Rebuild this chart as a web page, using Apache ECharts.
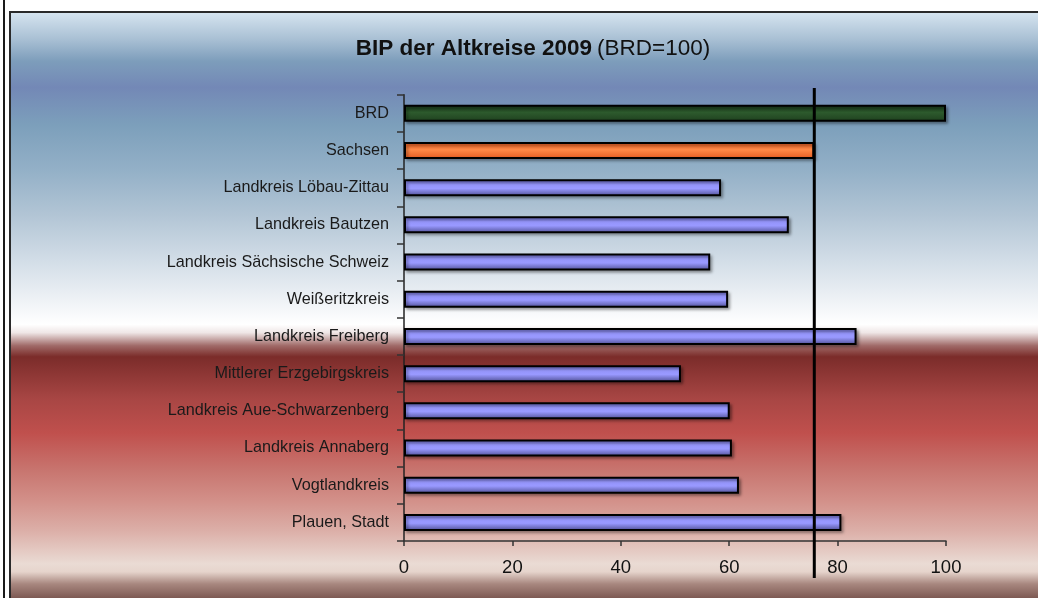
<!DOCTYPE html>
<html>
<head>
<meta charset="utf-8">
<style>
html,body{margin:0;padding:0;background:#fff;}
#c{width:1038px;height:598px;}
</style>
<script src="https://cdn.jsdelivr.net/npm/echarts@6/dist/echarts.min.js"></script>
</head>
<body>
<div id="c"></div>
<script>
const categories = [
  'BRD', 'Sachsen', 'Landkreis Löbau-Zittau', 'Landkreis Bautzen',
  'Landkreis Sächsische Schweiz', 'Weißeritzkreis', 'Landkreis Freiberg',
  'Mittlerer Erzgebirgskreis', 'Landkreis Aue-Schwarzenberg', 'Landkreis Annaberg',
  'Vogtlandkreis', 'Plauen, Stadt'
];
const values = [100, 75.7, 58.5, 71.0, 56.5, 59.8, 83.5, 51.1, 60.1, 60.5, 61.8, 80.7];
const referenceValue = [75.7];
const xTicks = [0, 20, 40, 60, 80, 100];

function grad(stops) {
  return {type: 'linear', x: 0, y: 0, x2: 0, y2: 1,
    colorStops: stops.map(s => ({offset: s[0], color: s[1]}))};
}
const blue = grad([[0, '#6262b8'], [0.3, '#9696fc'], [0.55, '#9999ff'], [1, '#4e4e92']]);
const green = grad([[0, '#173517'], [0.45, '#2d5a2d'], [1, '#1f401f']]);
const orange = grad([[0, '#e0561c'], [0.45, '#ff8a48'], [1, '#e25a20']]);

const barData = values.map((v, i) => ({
  value: v,
  itemStyle: {color: i === 0 ? green : (i === 1 ? orange : blue)}
}));

const H = 586;
function st(y) { return (y - 12) / H; }
const bgStops = [
  [st(12), '#d8e6f1'], [st(40), '#a9c0d4'], [st(62), '#7d9dbb'], [st(88), '#7388b6'],
  [st(125), '#7c9fbb'], [st(170), '#93b0c7'], [st(215), '#b2c5d5'], [st(260), '#d2dde7'],
  [st(298), '#edf1f5'], [st(318), '#fbfcfd'], [st(324), '#ffffff'], [st(332), '#efe6e6'],
  [st(345), '#a06a68'], [st(356), '#7b2c2a'], [st(398), '#a84644'], [st(432), '#c0504d'],
  [st(470), '#c87670'], [st(500), '#d3918a'], [st(530), '#dcb0a9'], [st(562), '#eadbd4'],
  [st(570), '#e6d4cc'], [st(582), '#a8877f'], [st(598), '#77534d']
];

const chart = echarts.init(document.getElementById('c'), null, {renderer: 'canvas'});
const FONT = 'Liberation Sans, Arial, sans-serif';
chart.setOption({
  animation: false,
  backgroundColor: '#ffffff',
  graphic: [
    {type: 'rect', z: -10, silent: true,
     shape: {x: 10, y: 12, width: 1030, height: 587},
     style: {fill: grad(bgStops), stroke: '#2a2a2a', lineWidth: 2}},
    {type: 'line', z: -10, silent: true,
     shape: {x1: 4, y1: 0, x2: 4, y2: 598},
     style: {stroke: '#1a1a1a', lineWidth: 2}}
  ],
  title: {
    text: '{b|BIP der Altkreise 2009} {n|(BRD=100)}',
    left: 528, top: 32, textAlign: 'center',
    textStyle: {
      rich: {
        b: {fontFamily: FONT, fontWeight: 'bold', fontSize: 22.5, color: '#111'},
        n: {fontFamily: FONT, fontWeight: 'normal', fontSize: 22.5, color: '#111'}
      }
    }
  },
  grid: [
    {left: 404, right: 92, top: 94.7, bottom: 57, containLabel: false},
    {left: 404, right: 92, top: 88, bottom: 20, containLabel: false}
  ],
  xAxis: [
    {type: 'value', gridIndex: 0, min: 0, max: 100, interval: 20,
     axisLine: {show: true, lineStyle: {color: '#333', width: 1.5}},
     axisTick: {show: true, length: 5, lineStyle: {color: '#333', width: 1.5}},
     splitLine: {show: false},
     axisLabel: {margin: 17, fontFamily: FONT, fontSize: 18.5, color: '#111',
       formatter: v => xTicks.includes(v) ? String(v) : ''}},
    {type: 'value', gridIndex: 1, min: 0, max: 100, show: false}
  ],
  yAxis: [
    {type: 'category', gridIndex: 0, data: categories, inverse: true,
     axisLine: {show: true, lineStyle: {color: '#222', width: 1.5}},
     axisTick: {show: true, length: 7, alignWithLabel: false, lineStyle: {color: '#333', width: 1.5}},
     axisLabel: {margin: 15, fontFamily: FONT, fontSize: 16.2, color: '#1a1a1a'}},
    {type: 'value', gridIndex: 1, min: 0, max: 1, show: false}
  ],
  series: [
    {type: 'bar', xAxisIndex: 0, yAxisIndex: 0, data: barData, barWidth: 17,
     itemStyle: {borderColor: '#000', borderWidth: 2,
       shadowColor: 'rgba(0,0,0,0.35)', shadowBlur: 3, shadowOffsetX: 2, shadowOffsetY: 2},
     z: 2},
    {type: 'line', xAxisIndex: 1, yAxisIndex: 1, symbol: 'none', z: 5,
     data: [[referenceValue[0], 0], [referenceValue[0], 1]],
     lineStyle: {color: '#000', width: 3}}
  ]
});
</script>
</body>
</html>
